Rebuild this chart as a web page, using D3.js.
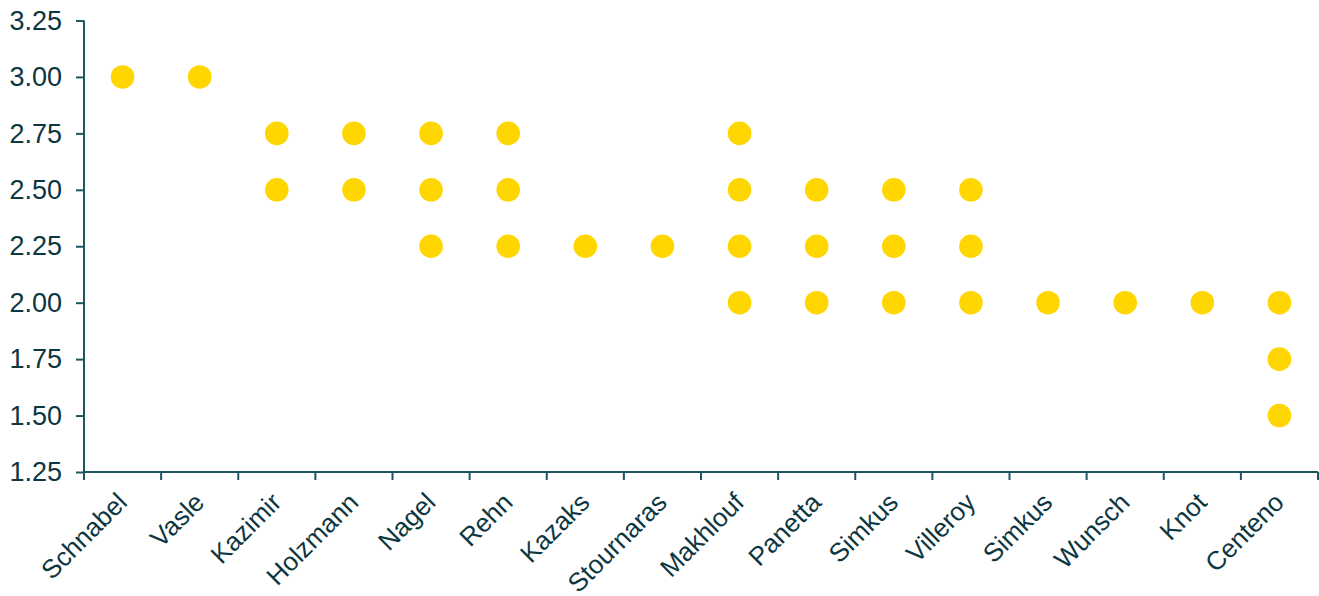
<!DOCTYPE html>
<html>
<head>
<meta charset="utf-8">
<script src="https://cdn.jsdelivr.net/npm/d3@7"></script>
<style>
  html, body { margin: 0; padding: 0; background: #ffffff; }
  svg { display: block; }
</style>
</head>
<body>
<svg id="chart" width="1319" height="596"></svg>
<script>
const policymakers = ["Schnabel", "Vasle", "Kazimir", "Holzmann", "Nagel", "Rehn", "Kazaks", "Stournaras",
  "Makhlouf", "Panetta", "Simkus", "Villeroy", "Simkus", "Wunsch", "Knot", "Centeno"];
const rateEstimates = [
  [3.00],
  [3.00],
  [2.75, 2.50],
  [2.75, 2.50],
  [2.75, 2.50, 2.25],
  [2.75, 2.50, 2.25],
  [2.25],
  [2.25],
  [2.75, 2.50, 2.25, 2.00],
  [2.50, 2.25, 2.00],
  [2.50, 2.25, 2.00],
  [2.50, 2.25, 2.00],
  [2.00],
  [2.00],
  [2.00],
  [2.00, 1.75, 1.50]
];
const yTicks = [1.25, 1.50, 1.75, 2.00, 2.25, 2.50, 2.75, 3.00, 3.25];

const svg = d3.select("#chart");
const mLeft = 84, mRight = 1318, mTop = 20.5, mBottom = 472;
const axisColor = "#1d5560";
const textColor = "#0c3641";
const fontFamily = "'Liberation Sans', Arial, sans-serif";

const x = d3.scaleBand().domain(policymakers.map((d, i) => i)).range([mLeft, mRight]).padding(0);
const y = d3.scaleLinear().domain([1.25, 3.25]).range([mBottom, mTop]);

// Y axis
const yAxis = svg.append("g").attr("transform", `translate(${mLeft},0)`)
  .call(d3.axisLeft(y).tickValues(yTicks).tickFormat(d3.format(".2f")).tickSize(8).tickPadding(14));
yAxis.select(".domain").attr("stroke", axisColor).attr("stroke-width", 2).attr("d", `M0,${mTop}V${mBottom}`);
yAxis.selectAll(".tick line").attr("stroke", axisColor).attr("stroke-width", 2);
yAxis.selectAll(".tick text").attr("fill", textColor).style("font-family", fontFamily).style("font-size", "27px");

// X axis
const xAxis = svg.append("g").attr("transform", `translate(0,${mBottom})`)
  .call(d3.axisBottom(x).tickSize(0).tickFormat(i => policymakers[i]));
xAxis.select(".domain").attr("stroke", axisColor).attr("stroke-width", 2).attr("d", `M${mLeft},0H${mRight}`);
xAxis.selectAll(".tick line").remove();
xAxis.selectAll(".tick text")
  .attr("fill", textColor)
  .style("font-family", fontFamily).style("font-size", "26px")
  .attr("text-anchor", "end")
  .attr("dy", null)
  .attr("y", 0)
  .attr("transform", "translate(6,32) rotate(-45)");

// boundary ticks on x axis
const boundaries = policymakers.map((d, i) => x(i)).concat([x(policymakers.length - 1) + x.bandwidth()]);
svg.append("g").selectAll("line").data(boundaries).join("line")
  .attr("x1", d => d).attr("x2", d => d)
  .attr("y1", mBottom).attr("y2", mBottom + 8)
  .attr("stroke", axisColor).attr("stroke-width", 2);

// dots
const points = [];
rateEstimates.forEach((vals, i) => vals.forEach(v => points.push({ i, v })));
svg.append("g").selectAll("circle").data(points).join("circle")
  .attr("cx", d => x(d.i) + x.bandwidth() / 2)
  .attr("cy", d => y(d.v))
  .attr("r", 11.8)
  .attr("fill", "#ffd600");
</script>
</body>
</html>
